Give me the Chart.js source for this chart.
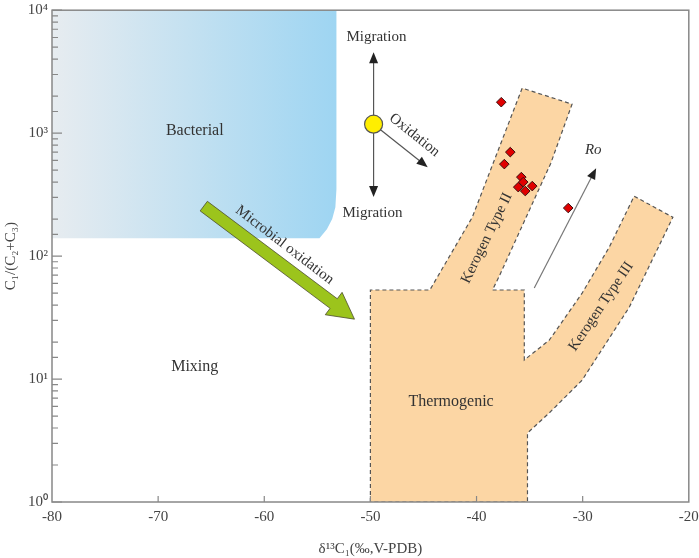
<!DOCTYPE html>
<html>
<head>
<meta charset="utf-8">
<script src="https://cdn.jsdelivr.net/npm/chart.js@4.4.1/dist/chart.umd.min.js"></script>
<style>
  html, body { margin: 0; padding: 0; background: #fff; }
  #wrap { width: 699px; height: 558px; }
</style>
</head>
<body>
<div id="wrap"><canvas id="chart"></canvas></div>
<script>
// Axis ranges and tick labels
const xMin = -80, xMax = -20, xStep = 10;
const yMin = 1, yMax = 10000;
const yTickLabels = ['10⁰', '10¹', '10²', '10³', '10⁴'];

// Bacterial field outline
const bacterialX = [-80, -80, -53.2, -53.2, -53.3, -53.6, -54.1, -54.8, -80];
const bacterialY = [140, 10000, 10000, 350, 250, 200, 165, 140, 140];

// Thermogenic field with the Kerogen Type II and III branches
const thermoX = [-50, -50, -44.4, -40.4, -35.7, -31.0, -33.0, -37.9, -38.5, -35.5, -35.5,
                 -33.15, -30.05, -27.5, -25.15, -21.5, -25.6, -30.05, -33.15, -35.2, -35.2, -50];
const thermoY = [1, 53, 53, 207, 2323, 1722, 570, 67.5, 53, 53, 14.3,
                 20.7, 50, 118, 307, 207, 38.5, 9.8, 5.3, 3.64, 1, 1];

// Gas samples
const sampleX = [-37.67, -36.82, -37.38, -35.78, -35.6, -36.07, -35.41, -34.75, -31.36];
const sampleY = [1786, 701, 560, 439, 400, 364, 338, 371, 246];

// Start point of migration / oxidation arrows
const startX = [-49.7];
const startY = [1183];

// Thin arrows: migration up, migration down, oxidation, Ro
const arrowStartX = [-49.7, -49.7, -49.7, -34.56];
const arrowStartY = [1183, 1183, 1183, 55];
const arrowEndX = [-49.7, -49.7, -44.6, -28.73];
const arrowEndY = [4560, 302, 529, 519];

// Microbial oxidation block arrow (tail, tip)
const greenArrowX = [-65.7, -51.5];
const greenArrowY = [255, 30.7];

const pts = (xs, ys) => xs.map((v, i) => ({ x: v, y: ys[i] }));

// Text annotations, anchored in data units
const notes = [
  { text: 'Bacterial', x: -66.55, y: 1038, angle: 0, size: 16 },
  { text: 'Mixing', x: -66.55, y: 12.5, angle: 0, size: 16 },
  { text: 'Thermogenic', x: -42.4, y: 6.5, angle: 0, size: 16 },
  { text: 'Kerogen Type II', x: -39.03, y: 140, angle: -64, size: 15 },
  { text: 'Kerogen Type III', x: -28.26, y: 39, angle: -56, size: 15 },
  { text: 'Microbial oxidation', x: -58.08, y: 123, angle: 37.5, size: 15 },
  { text: 'Oxidation', x: -45.85, y: 964, angle: 38.7, size: 15 },
  { text: 'Migration', x: -49.43, y: 6030, angle: 0, size: 15 },
  { text: 'Migration', x: -49.8, y: 224, angle: 0, size: 15 },
  { text: 'Ro', x: -29.0, y: 727, angle: 0, size: 15, italic: true }
];

const FONT = '"Liberation Serif", "Times New Roman", serif';
Chart.defaults.font.family = FONT;

function arrowHead(ctx, x1, y1, a, len, half) {
  ctx.beginPath();
  ctx.moveTo(x1, y1);
  ctx.lineTo(x1 - len * Math.cos(a) + half * Math.sin(a), y1 - len * Math.sin(a) - half * Math.cos(a));
  ctx.lineTo(x1 - len * Math.cos(a) - half * Math.sin(a), y1 - len * Math.sin(a) + half * Math.cos(a));
  ctx.closePath();
  ctx.fill();
}

const decor = {
  id: 'decor',
  beforeDatasetsDraw(chart) {
    const { ctx, scales: { x, y } } = chart;
    ctx.save();
    // thin arrows (under the yellow circle)
    for (let i = 0; i < arrowStartX.length; i++) {
      const x0 = x.getPixelForValue(arrowStartX[i]), y0 = y.getPixelForValue(arrowStartY[i]);
      const x1 = x.getPixelForValue(arrowEndX[i]), y1 = y.getPixelForValue(arrowEndY[i]);
      const a = Math.atan2(y1 - y0, x1 - x0);
      ctx.strokeStyle = i === 3 ? '#777' : '#555';
      ctx.lineWidth = 1.2;
      ctx.beginPath();
      ctx.moveTo(x0, y0);
      ctx.lineTo(x1 - 8 * Math.cos(a), y1 - 8 * Math.sin(a));
      ctx.stroke();
      ctx.fillStyle = '#222';
      arrowHead(ctx, x1, y1, a, 11, 4.5);
    }
    ctx.restore();
  },
  afterDatasetsDraw(chart) {
    const { ctx, scales: { x, y } } = chart;
    ctx.save();
    // green block arrow, on top of the bacterial field
    const tx = x.getPixelForValue(greenArrowX[0]), ty = y.getPixelForValue(greenArrowY[0]);
    const hx = x.getPixelForValue(greenArrowX[1]), hy = y.getPixelForValue(greenArrowY[1]);
    const a = Math.atan2(hy - ty, hx - tx);
    const ux = Math.cos(a), uy = Math.sin(a), nx = -uy, ny = ux;
    const w = 6, hw = 14, hl = 26;
    const bx = hx - ux * hl, by = hy - uy * hl;
    ctx.beginPath();
    ctx.moveTo(tx + nx * w, ty + ny * w);
    ctx.lineTo(bx + nx * w, by + ny * w);
    ctx.lineTo(bx + nx * hw, by + ny * hw);
    ctx.lineTo(hx, hy);
    ctx.lineTo(bx - nx * hw, by - ny * hw);
    ctx.lineTo(bx - nx * w, by - ny * w);
    ctx.lineTo(tx - nx * w, ty - ny * w);
    ctx.closePath();
    ctx.fillStyle = '#9cc41c';
    ctx.fill();
    ctx.strokeStyle = '#4b4b30';
    ctx.lineWidth = 0.8;
    ctx.stroke();

    // labels
    ctx.fillStyle = '#333';
    ctx.textAlign = 'center';
    ctx.textBaseline = 'middle';
    notes.forEach(n => {
      ctx.save();
      ctx.translate(x.getPixelForValue(n.x), y.getPixelForValue(n.y));
      ctx.rotate(n.angle * Math.PI / 180);
      ctx.font = (n.italic ? 'italic ' : '') + n.size + 'px ' + FONT;
      ctx.fillText(n.text, 0, 0);
      ctx.restore();
    });
    ctx.restore();
  },
  afterDraw(chart) {
    const { ctx, chartArea: c, scales: { x, y } } = chart;
    ctx.save();
    ctx.strokeStyle = '#888';
    ctx.lineWidth = 1.5;
    ctx.strokeRect(c.left, c.top, c.right - c.left, c.bottom - c.top);
    ctx.lineWidth = 1.2;
    ctx.beginPath();
    y.ticks.forEach(t => {
      const e = Math.log10(t.value);
      const major = Math.abs(e - Math.round(e)) < 1e-6;
      const py = y.getPixelForValue(t.value);
      ctx.moveTo(c.left, py);
      ctx.lineTo(c.left + (major ? 10 : 6), py);
    });
    for (let v = xMin + xStep; v < xMax; v += xStep) {
      const px = x.getPixelForValue(v);
      ctx.moveTo(px, c.bottom);
      ctx.lineTo(px, c.bottom - 6);
    }
    ctx.stroke();
    ctx.restore();
  }
};

new Chart(document.getElementById('chart'), {
  type: 'line',
  data: {
    datasets: [
      {
        data: pts(startX, startY),
        showLine: false,
        pointStyle: 'circle',
        pointRadius: 9,
        backgroundColor: '#ffee00',
        borderColor: '#555',
        borderWidth: 1.2,
        order: 0
      },
      {
        data: pts(sampleX, sampleY),
        showLine: false,
        pointStyle: 'rectRot',
        pointRadius: 4.8,
        backgroundColor: '#e00000',
        borderColor: '#3a1010',
        borderWidth: 1,
        order: 1
      },
      {
        data: pts(thermoX, thermoY),
        fill: 'shape',
        tension: 0,
        pointRadius: 0,
        backgroundColor: '#fcd6a4',
        borderColor: '#555',
        borderWidth: 1.2,
        borderDash: [4, 3],
        order: 2
      },
      {
        data: pts(bacterialX, bacterialY),
        fill: 'shape',
        tension: 0,
        pointRadius: 0,
        borderColor: 'rgba(0,0,0,0)',
        backgroundColor: ctx => {
          const area = ctx.chart.chartArea;
          if (!area) return '#c8e2f0';
          const xs = ctx.chart.scales.x;
          const g = ctx.chart.ctx.createLinearGradient(xs.getPixelForValue(-80), 0, xs.getPixelForValue(-53.2), 0);
          g.addColorStop(0, '#e7ecf0');
          g.addColorStop(1, '#9ed5f2');
          return g;
        },
        order: 3
      }
    ]
  },
  options: {
    responsive: true,
    maintainAspectRatio: false,
    animation: false,
    events: [],
    layout: { padding: { left: 2, top: 10, right: 10, bottom: 0 } },
    plugins: { legend: { display: false }, tooltip: { enabled: false } },
    scales: {
      x: {
        type: 'linear',
        min: xMin,
        max: xMax,
        grid: { display: false, drawTicks: false },
        border: { display: false },
        ticks: { stepSize: xStep, padding: 6, color: '#444', font: { size: 15 } },
        title: { display: true, text: 'δ¹³C₁(‰,V-PDB)', color: '#444', font: { size: 15 }, padding: { top: 0, bottom: 0 } },
        afterFit(s) { s.height = 56; s.paddingLeft = 0; s.paddingRight = 0; }
      },
      y: {
        type: 'logarithmic',
        min: yMin,
        max: yMax,
        grid: { display: false, drawTicks: false },
        border: { display: false },
        ticks: {
          autoSkip: false,
          padding: 4,
          color: '#444',
          font: { size: 15 },
          callback: v => {
            const e = Math.log10(v);
            return Math.abs(e - Math.round(e)) < 1e-6 ? yTickLabels[Math.round(e)] : '';
          }
        },
        title: { display: true, text: 'C₁/(C₂+C₃)', color: '#444', font: { size: 15 }, padding: { top: 0, bottom: 0 } },
        afterFit(s) { s.width = 50; s.paddingTop = 0; s.paddingBottom = 0; }
      }
    }
  },
  plugins: [decor]
});
</script>
</body>
</html>
